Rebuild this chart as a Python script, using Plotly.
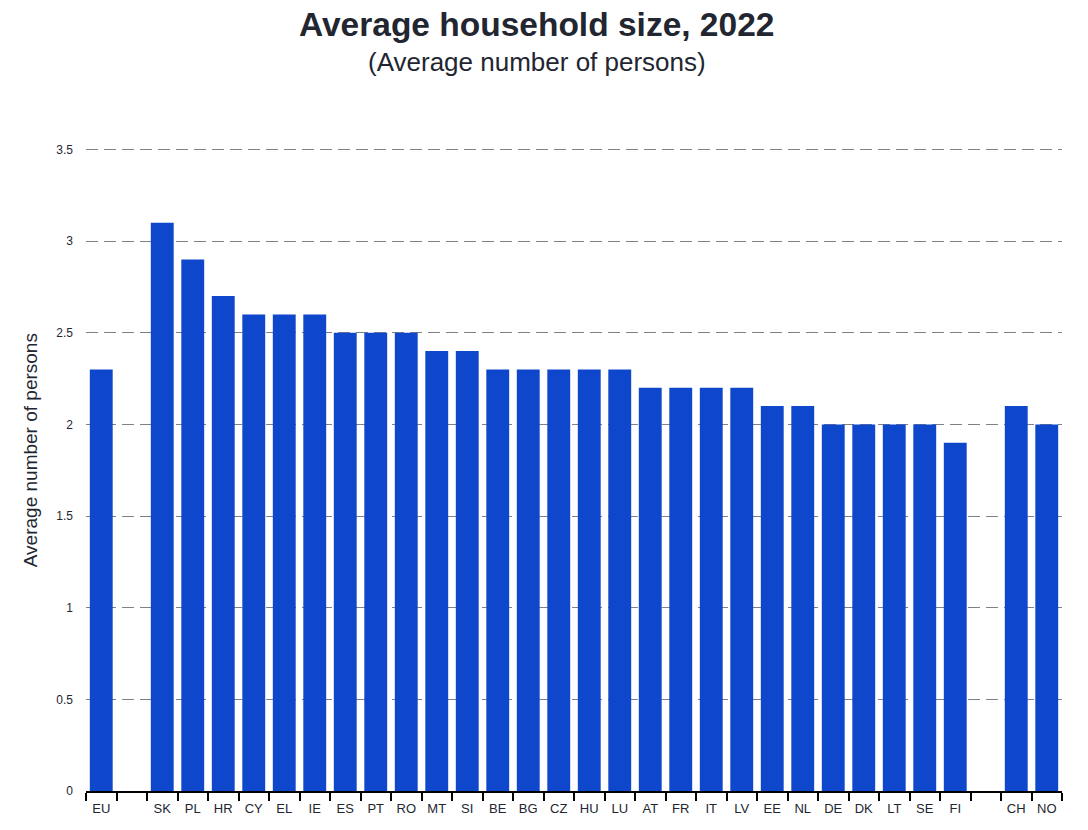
import plotly.graph_objects as go

categories = ["EU", " ", "SK", "PL", "HR", "CY", "EL", "IE", "ES", "PT", "RO", "MT", "SI",
              "BE", "BG", "CZ", "HU", "LU", "AT", "FR", "IT", "LV", "EE", "NL", "DE", "DK",
              "LT", "SE", "FI", "  ", "CH", "NO"]
values = [2.3, None, 3.1, 2.9, 2.7, 2.6, 2.6, 2.6, 2.5, 2.5, 2.5, 2.4, 2.4,
          2.3, 2.3, 2.3, 2.3, 2.3, 2.2, 2.2, 2.2, 2.2, 2.1, 2.1, 2.0, 2.0,
          2.0, 2.0, 1.9, None, 2.1, 2.0]
y_ticks = [0, 0.5, 1, 1.5, 2, 2.5, 3, 3.5]
title_text = "Average household size, 2022"
subtitle_text = "(Average number of persons)"
y_title = "Average number of persons"

fig = go.Figure(go.Bar(x=categories, y=values, marker_color="#0E47CB",
                       marker_line_width=0, hoverinfo="x+y"))

fig.update_layout(
    width=1088, height=830,
    paper_bgcolor="white", plot_bgcolor="white",
    margin=dict(l=86, r=26, t=148, b=39),
    bargap=0.25,
    font=dict(family="Liberation Sans, Arial, sans-serif", color="#222222"),
    showlegend=False,
    annotations=[
        dict(text="<b>" + title_text + "</b>", xref="paper", yref="paper",
             x=0.462, y=1.0, yshift=124, xanchor="center", yanchor="middle",
             showarrow=False, font=dict(size=33.5, color="#222631")),
        dict(text=subtitle_text, xref="paper", yref="paper",
             x=0.462, y=1.0, yshift=86, xanchor="center", yanchor="middle",
             showarrow=False, font=dict(size=26, color="#222631")),
        dict(text=y_title, xref="paper", yref="paper", textangle=-90,
             x=0, xshift=-56, y=0.530, xanchor="center", yanchor="middle",
             showarrow=False, font=dict(size=19, color="#222631")),
    ],
)
fig.update_xaxes(
    type="category", categoryorder="array", categoryarray=categories,
    showline=True, linecolor="#000000", linewidth=2,
    ticks="outside", tickson="boundaries", ticklen=8, tickwidth=1.5, tickcolor="#000000",
    ticklabelstandoff=4,
    tickfont=dict(size=13, color="#222631"), showgrid=False,
)
fig.update_yaxes(
    range=[0, 3.508], tickvals=y_ticks,
    showgrid=True, gridcolor="#80808a", gridwidth=1, griddash="12px,6px",
    zeroline=False, showline=False,
    ticklabelstandoff=12,
    tickfont=dict(size=12, color="#222631"),
)

fig.write_html("out.html", config={"displayModeBar": False},
               post_script="document.body.style.margin='0';document.body.style.overflow='hidden';")
